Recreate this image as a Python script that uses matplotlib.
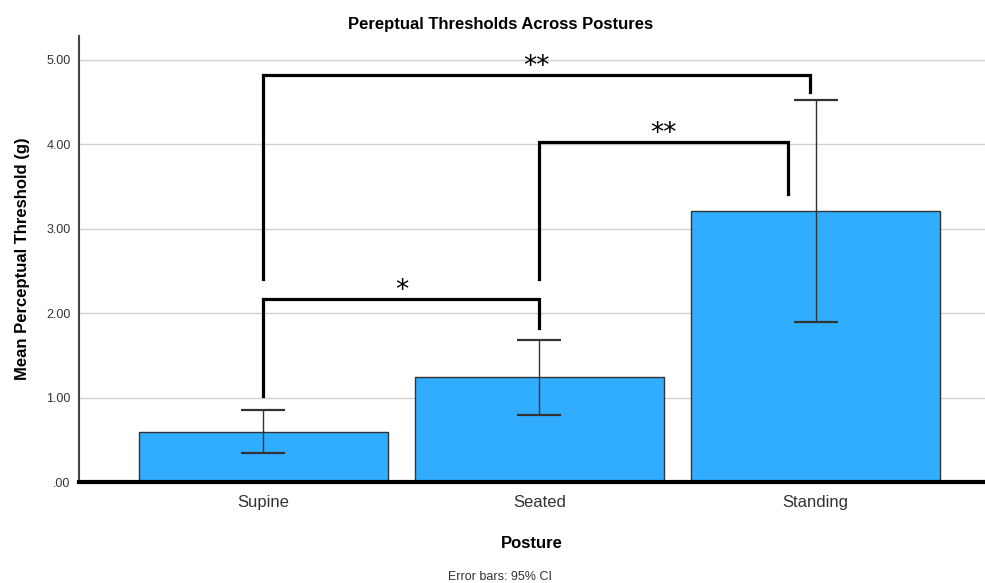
import matplotlib.pyplot as plt
import numpy as np

plt.rcParams['font.family'] = ['Liberation Sans', 'DejaVu Sans']

postures = ["Supine", "Seated", "Standing"]
means = [0.59, 1.24, 3.21]
ci_low = [0.34, 0.79, 1.90]
ci_high = [0.85, 1.68, 4.52]

# significance brackets: (left bar, right bar, left foot, top, right foot, label)
brackets = [
    (0, 1, 1.02, 2.17, 1.82, "*"),
    (1, 2, 2.40, 4.03, 3.41, "**"),
    (0, 2, 2.40, 4.82, 4.62, "**"),
]
# the long bracket ends a little right of the Standing centre
bracket_x_shift = [(0, 0), (0, -0.1), (0, -0.02)]

fig = plt.figure(figsize=(9.85, 5.83), dpi=100)
ax = fig.add_axes([0.0802, 0.1732, 0.9198, 0.7651])

x = np.arange(len(postures))
ax.bar(x, means, width=0.9, color="#30adff", edgecolor="#333333",
       linewidth=1.0, zorder=2)

err = [np.array(means) - np.array(ci_low), np.array(ci_high) - np.array(means)]
ax.errorbar(x, means, yerr=err, fmt="none", ecolor="#333333",
            elinewidth=1.0, capsize=16, capthick=1.6, zorder=3)

for (i, j, yl, yt, yr, lab), (dl, dr) in zip(brackets, bracket_x_shift):
    xl, xr = x[i] + dl, x[j] + dr
    ax.plot([xl, xl, xr, xr], [yl, yt, yt, yr], color="black",
            linewidth=2.3, solid_joinstyle="miter", zorder=4)
    ax.text((xl + xr) / 2, yt - 0.06, lab, ha="center", va="bottom",
            fontsize=19, family="DejaVu Sans", zorder=5)

ax.set_xlim(-0.668, 2.614)
ax.set_ylim(0, 5.28)
ax.set_yticks([0, 1, 2, 3, 4, 5])
ax.set_yticklabels([".00", "1.00", "2.00", "3.00", "4.00", "5.00"],
                   fontsize=9, color="#333333")
ax.set_xticks(x)
ax.set_xticklabels(postures, fontsize=12, color="#333333")
ax.tick_params(axis="both", length=0)
ax.tick_params(axis="x", pad=9)
ax.tick_params(axis="y", pad=6)
ax.yaxis.grid(True, color="#d0d0d0", linewidth=1.0, zorder=0)
ax.set_axisbelow(True)

for s in ["top", "right"]:
    ax.spines[s].set_visible(False)
ax.spines["left"].set_color("#444444")
ax.spines["left"].set_linewidth(1.5)
ax.spines["bottom"].set_color("black")
ax.spines["bottom"].set_linewidth(3)

ax.set_ylabel("Mean Perceptual Threshold (g)", fontsize=12,
              fontweight="bold", labelpad=12)
ax.set_xlabel("Posture", fontsize=12, fontweight="bold", labelpad=19)

fig.text(0.508, 0.958, "Pereptual Thresholds Across Postures", ha="center",
         va="center", fontsize=12, fontweight="bold")
fig.text(0.508, 0.01, "Error bars: 95% CI", ha="center", va="center",
         fontsize=9, color="#333333")

fig.savefig("out.png", dpi=100)
